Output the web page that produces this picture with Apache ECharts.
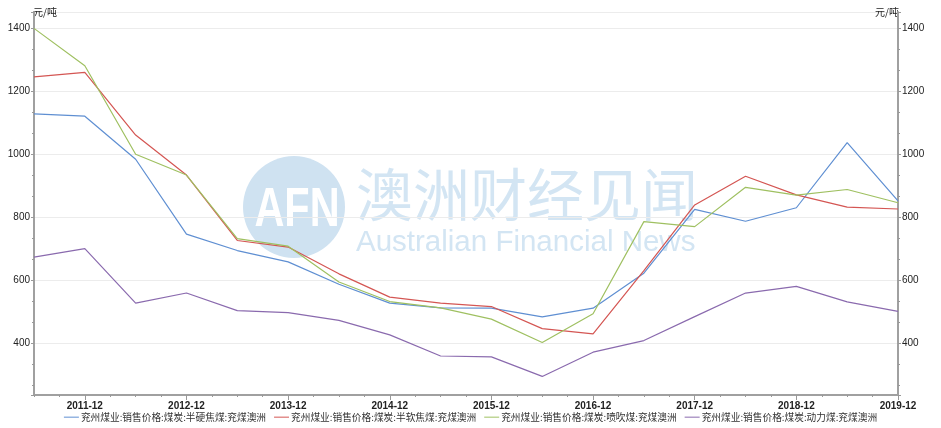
<!DOCTYPE html>
<html>
<head>
<meta charset="utf-8">
<script src="https://cdn.jsdelivr.net/npm/echarts@6/dist/echarts.min.js"></script>
<style>
html,body{margin:0;padding:0;background:#fff;}
#c{width:941px;height:428px;}
</style>
</head>
<body>
<div id="c"></div>
<script>
// half-year observation dates
var dates = ['2011-06','2011-12','2012-06','2012-12','2013-06','2013-12','2014-06','2014-12','2015-06','2015-12','2016-06','2016-12','2017-06','2017-12','2018-06','2018-12','2019-06','2019-12'];
// quarterly axis categories
var categories = ['2011-06','2011-09','2011-12','2012-03','2012-06','2012-09','2012-12','2013-03','2013-06','2013-09','2013-12','2014-03','2014-06','2014-09','2014-12','2015-03','2015-06','2015-09','2015-12','2016-03','2016-06','2016-09','2016-12','2017-03','2017-06','2017-09','2017-12','2018-03','2018-06','2018-09','2018-12','2019-03','2019-06','2019-09','2019-12'];
var tickLabels = ['2011-12','2012-12','2013-12','2014-12','2015-12','2016-12','2017-12','2018-12','2019-12'];

var seriesNames = ['兖州煤业:销售价格:煤炭:半硬焦煤:兖煤澳洲','兖州煤业:销售价格:煤炭:半软焦煤:兖煤澳洲','兖州煤业:销售价格:煤炭:喷吹煤:兖煤澳洲','兖州煤业:销售价格:煤炭:动力煤:兖煤澳洲'];
var semiHard = [1128,1121,984,746,694,658,587,527,512,511,483,511,622,825,787,830,1037,852];
var semiSoft = [1246,1260,1061,934,726,705,620,546,527,516,446,429,630,839,930,871,832,826];
var pci      = [1400,1281,1000,934,732,708,594,532,512,476,402,493,786,770,895,870,888,846];
var thermal  = [673,700,527,559,503,497,472,426,359,356,294,371,408,484,559,580,531,501];

var unitName = '元/吨';
var yMin = 235, yMax = 1452;

function toQuarterly(vals){
  var out = categories.map(function(){ return null; });
  dates.forEach(function(d,i){ out[categories.indexOf(d)] = vals[i]; });
  return out;
}
function isLabelIdx(idx){ return tickLabels.indexOf(categories[idx]) >= 0; }

var colors = ['#5f8fd2','#d45653','#9fc061','#8a6aae'];
var allVals = [semiHard, semiSoft, pci, thermal];

var chart = echarts.init(document.getElementById('c'));
var yBase = {
  type:'value', min:yMin, max:yMax, minInterval:200, maxInterval:200,
  name: unitName, nameGap: 0,
  nameTextStyle:{color:'#222', fontSize:10, fontFamily:'Noto Sans CJK SC', verticalAlign:'middle'},
  axisLine:{show:true, lineStyle:{color:'#a0a0a0', width:2}},
  axisTick:{show:true, length:3, lineStyle:{color:'#999'}},
  minorTick:{show:true, splitNumber:3, length:2, lineStyle:{color:'#999'}},
  axisLabel:{color:'#222', fontSize:10, fontFamily:'Arial', showMinLabel:false, showMaxLabel:false, margin:4,
    formatter:function(v){ return String(v); }},
  splitLine:{show:false}
};
var yLeft = echarts.util.merge({position:'left', nameTextStyle:{align:'left', padding:[0,0,0,-1]}, splitLine:{show:true, lineStyle:{color:'#ececec'}}}, yBase, false);
var yRight = echarts.util.merge({position:'right', nameTextStyle:{align:'right', padding:[0,-1,0,0]}}, yBase, false);

chart.setOption({
  animation:false,
  color: colors,
  grid:{left:34, right:43, top:12, bottom:33, containLabel:false},
  graphic:[
    {type:'circle', z:0, shape:{cx:294, cy:207, r:51}, style:{fill:'#cfe2f1'}},
    {type:'text', z:0, x:297, y:211, scaleX:0.74, style:{text:'AFN', fill:'#ffffff', font:'bold 56px "Liberation Sans"', textAlign:'center', textVerticalAlign:'middle'}},
    {type:'text', z:0, x:356, y:194, style:{text:'澳洲财经见闻', fill:'#d3e5f3', font:'57px "Noto Sans CJK SC"', textAlign:'left', textVerticalAlign:'middle'}},
    {type:'text', z:0, x:356, y:243, style:{text:'Australian Financial News', fill:'#d3e5f3', font:'29.5px "Liberation Sans"', textAlign:'left', textVerticalAlign:'middle'}}
  ],
  legend:{
    bottom:1, left:'center', icon:'rect', itemWidth:15, itemHeight:1, itemGap:8,
    textStyle:{fontSize:9.7, color:'#333', fontFamily:'Noto Sans CJK SC', padding:[0,0,0,-3]},
    data: seriesNames
  },
  xAxis:[
    {
      type:'category', data:categories, boundaryGap:false,
      axisLine:{lineStyle:{color:'#a0a0a0', width:2}},
      axisTick:{interval:0, length:2, lineStyle:{color:'#999'}},
      axisLabel:{interval:function(i){return isLabelIdx(i);}, color:'#222', fontSize:10, fontFamily:'Arial', fontWeight:'bold', margin:6},
      splitLine:{show:false}
    },
    {
      type:'category', data:categories, boundaryGap:false, position:'bottom',
      axisLine:{show:false},
      axisTick:{interval:function(i){return isLabelIdx(i);}, length:5, lineStyle:{color:'#999'}},
      axisLabel:{show:false}, splitLine:{show:false}
    }
  ],
  yAxis:[yLeft, yRight],
  series: seriesNames.map(function(n,k){
    return {
      name:n, type:'line', xAxisIndex:0, yAxisIndex:0, data: toQuarterly(allVals[k]),
      connectNulls:true, symbol:'none', showSymbol:false, z:3,
      lineStyle:{width:1.2, color:colors[k]}
    };
  })
});
</script>
</body>
</html>
